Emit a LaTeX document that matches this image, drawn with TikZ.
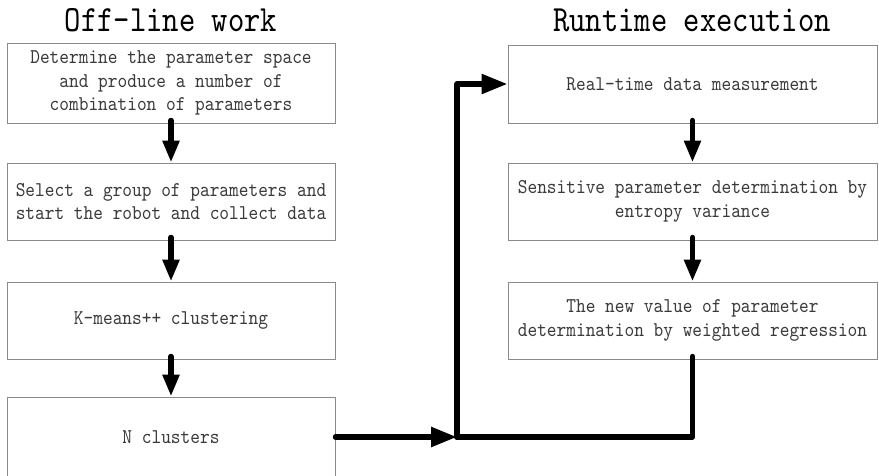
\documentclass[tikz,border=0pt]{standalone}
\usepackage{fontspec}
\usetikzlibrary{arrows.meta}
% Serif typewriter face, narrowed to the condensed look of the labels
\newfontfamily\boxfont{lmmono10-regular.otf}[FakeStretch=0.88]
\newfontfamily\headfont{lmmono10-regular.otf}[FakeStretch=0.84]
\definecolor{framegray}{HTML}{8A8A8A}
\definecolor{labelgray}{HTML}{3A3A3A}
\tikzset{
  stage/.style={draw=framegray, line width=1pt, rectangle, inner sep=0pt,
    align=center, text=labelgray,
    font=\boxfont\fontsize{21}{23.5}\selectfont},
  leftstage/.style={stage, minimum width=328pt},
  rightstage/.style={stage, minimum width=369pt},
  heading/.style={font=\headfont\fontsize{37}{40}\selectfont, text=black, inner sep=0pt},
  flow/.style={line width=5.5pt, line cap=round, line join=round,
    -{Triangle[length=22pt,width=16pt]}},
  bigflow/.style={line width=5.5pt, line cap=round, line join=round,
    -{Triangle[length=26pt,width=19pt]}},
  plainflow/.style={line width=5.5pt, line cap=round, line join=round}
}
\begin{document}
\begin{tikzpicture}[x=1pt,y=-1pt]
  \useasboundingbox (0,0) rectangle (879,475);
  \fill[white] (0,0) rectangle (879,475);

  % column headings
  \node[heading] (hoff) at (171,20) {Off-line work};
  \node[heading] (hrun) at (692,20) {Runtime execution};

  % off-line stages
  \node[leftstage, minimum height=80pt] (s1) at (171,83)
    {Determine the parameter space\\and produce a number of\\combination of parameters};
  \node[leftstage, minimum height=77pt] (s2) at (171,201.5)
    {Select a group of parameters and\\start the robot and collect data};
  \node[leftstage, minimum height=77pt] (s3) at (171,320.5)
    {K-means++ clustering};
  \node[leftstage, minimum height=80pt] (s4) at (171,437)
    {N clusters};

  % runtime stages
  \node[rightstage, minimum height=78pt] (r1) at (692.5,84)
    {Real-time data measurement};
  \node[rightstage, minimum height=77pt] (r2) at (692.5,201.5)
    {Sensitive parameter determination by\\entropy variance};
  \node[rightstage, minimum height=77pt] (r3) at (692.5,320.5)
    {The new value of parameter\\determination by weighted regression};

  % junction where the two flows meet
  \coordinate (join) at (457,437);

  % vertical steps
  \draw[flow] ([yshift=3pt]s1.south) -- (s2.north);
  \draw[flow] ([yshift=3pt]s2.south) -- (s3.north);
  \draw[flow] ([yshift=3pt]s3.south) -- (s4.north);
  \draw[flow] ([yshift=3pt]r1.south) -- (r2.north);
  \draw[flow] ([yshift=3pt]r2.south) -- (r3.north);

  % feedback loop into the runtime stage
  \draw[bigflow] (s4.east) -- (join);
  \draw[plainflow] ([yshift=3pt]r3.south) |- (join);
  \draw[bigflow] (join) |- (r1.west);
\end{tikzpicture}
\end{document}
